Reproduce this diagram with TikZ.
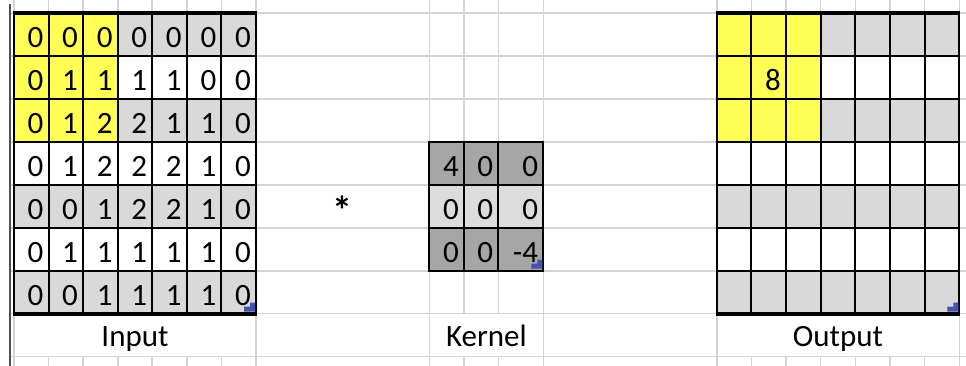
\documentclass[tikz,border=0pt]{standalone}
\usepackage{fontspec}
\setmainfont{Carlito}
\definecolor{hl}{HTML}{FFFF55}
\definecolor{band}{HTML}{D9D9D9}
\definecolor{kdark}{HTML}{A6A6A6}
\definecolor{klight}{HTML}{DCDCDC}
\definecolor{gridgray}{HTML}{D4D4D4}
\definecolor{handle}{HTML}{4354B2}
\definecolor{edge}{HTML}{505050}
\tikzset{
  gridline/.style={draw=gridgray, line width=1.6},
  cellline/.style={draw=black, line width=2},
  thickline/.style={draw=black, line width=4.2},
  num/.style={anchor=base east, inner sep=0pt, font=\fontsize{31}{36}\selectfont},
  lbl/.style={anchor=base, inner sep=0pt, font=\fontsize{31}{36}\selectfont},
  fillhandle/.style={fill=handle}
}
\newcommand{\HandleAt}[2]{%
  \fill[fillhandle] (#1-12,#2-2) -- (#1-12,#2-7) -- (#1-6,#2-7) -- (#1-6,#2-11) -- (#1-1,#2-11) -- (#1-1,#2-2) -- cycle;}
\begin{document}
\begin{tikzpicture}[x=1pt,y=-1pt]
\useasboundingbox (0,0) rectangle (966,366);
\fill[white] (0,0) rectangle (966,366);
% ---------- light spreadsheet grid ----------
\foreach \r in {0,...,8}
  \draw[gridline] (10,{13.3+42.9*\r}) -- (966,{13.3+42.9*\r});
\foreach \x in {14,48.57,83.14,117.71,152.28,186.85,221.42,256,429.3,464,498.3,543.3,716.7,751.36,786.02,820.68,855.34,890,924.66,959.3}{
  \draw[gridline] (\x,0) -- (\x,313.6);
  \draw[gridline] (\x,356.5) -- (\x,366);
}
\foreach \x in {14,256,429.3,543.3,716.7,959.3}
  \draw[gridline] (\x,313.6) -- (\x,356.5);
\draw[line width=2.2, edge] (10,4) -- (10,366);
% ---------- fills ----------
\foreach \r in {0,2,4,6}{
  \fill[band] (14,{13.3+42.9*\r}) rectangle (256,{13.3+42.9*(\r+1)});
  \fill[band] (716.7,{13.3+42.9*\r}) rectangle (959.3,{13.3+42.9*(\r+1)});
}
\fill[hl] (14,13.3) rectangle (117.71,142);
\fill[hl] (716.7,13.3) rectangle (820.68,142);
\fill[kdark] (429.3,142) rectangle (543.3,184.9);
\fill[klight] (429.3,184.9) rectangle (543.3,227.8);
\fill[kdark] (429.3,227.8) rectangle (543.3,270.7);
% ---------- black borders ----------
\foreach \c in {0,...,7}{
  \draw[cellline] ({14+34.571*\c},13.3) -- ({14+34.571*\c},313.6);
  \draw[cellline] ({716.7+34.657*\c},13.3) -- ({716.7+34.657*\c},313.6);
}
\foreach \r in {1,...,6}{
  \draw[cellline] (14,{13.3+42.9*\r}) -- (256,{13.3+42.9*\r});
  \draw[cellline] (716.7,{13.3+42.9*\r}) -- (959.3,{13.3+42.9*\r});
}
\draw[thickline] (13,13.3) -- (257,13.3);
\draw[thickline] (13,313.6) -- (257,313.6);
\draw[thickline] (715.7,13.3) -- (960.3,13.3);
\draw[thickline] (715.7,313.6) -- (960.3,313.6);
\draw[cellline] (429.3,142) rectangle (543.3,270.7);
\draw[cellline] (464,142) -- (464,270.7);
\draw[cellline] (498.3,142) -- (498.3,270.7);
\draw[cellline] (429.3,184.9) -- (543.3,184.9);
\draw[cellline] (429.3,227.8) -- (543.3,227.8);
% ---------- input numbers ----------
\foreach \row [count=\r] in {{0,0,0,0,0,0,0},{0,1,1,1,1,0,0},{0,1,2,2,1,1,0},{0,1,2,2,2,1,0},{0,0,1,2,2,1,0},{0,1,1,1,1,1,0},{0,0,1,1,1,1,0}}
  \foreach \v [count=\c] in \row
    \node[num] (in-\r-\c) at ({14+34.571*\c-5},{13.3+42.9*\r-8.5}) {\v};
% ---------- kernel numbers ----------
\node[num] (k-1-1) at (459,176.5) {4};
\node[num] (k-1-2) at (493.3,176.5) {0};
\node[num] (k-1-3) at (538.3,176.5) {0};
\node[num] (k-2-1) at (459,219.4) {0};
\node[num] (k-2-2) at (493.3,219.4) {0};
\node[num] (k-2-3) at (538.3,219.4) {0};
\node[num] (k-3-1) at (459,262.3) {0};
\node[num] (k-3-2) at (493.3,262.3) {0};
\node[num] (k-3-3) at (538.3,262.3) {-4};
% ---------- output ----------
\node[num] (out-2-2) at (781.0,90.6) {8};
% ---------- operator and labels ----------
\node[lbl, font=\fontsize{40}{44}\selectfont\bfseries] (star) at (342.6,224) {*};
\node[lbl] (lin) at (135,346.5) {Input};
\node[lbl] (lkern) at (486.3,346.5) {Kernel};
\node[lbl] (lout) at (838,346.5) {Output};
% ---------- fill handles ----------
\HandleAt{256}{313.6}
\HandleAt{543.3}{270.7}
\HandleAt{959.3}{313.6}
\end{tikzpicture}
\end{document}
